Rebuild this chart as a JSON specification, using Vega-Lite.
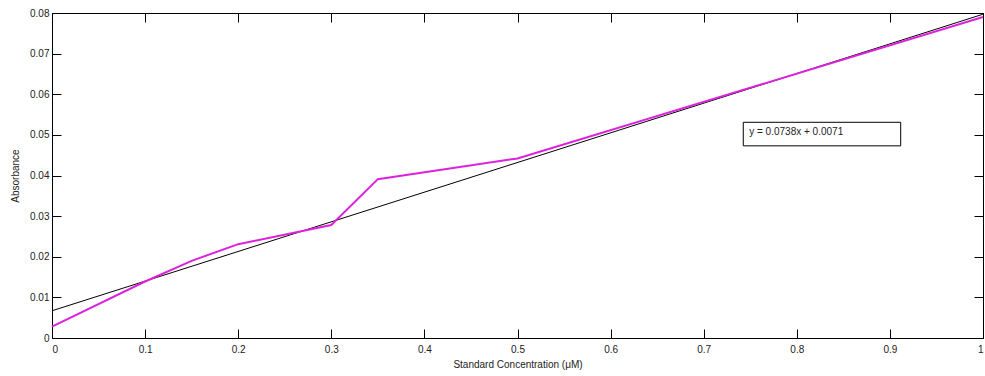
{
  "$schema": "https://vega.github.io/schema/vega-lite/v6.json",
  "autosize": "none",
  "width": 931,
  "height": 325,
  "padding": {"left": 52, "top": 13, "right": 2, "bottom": 38},
  "background": "white",
  "config": {
    "view": {"stroke": "black", "strokeWidth": 1},
    "font": "Liberation Sans",
    "axis": {
      "grid": false,
      "domainColor": "black",
      "tickColor": "black",
      "tickSize": -9,
      "labelFont": "Liberation Sans",
      "labelFontSize": 10,
      "labelColor": "#222",
      "titleFont": "Liberation Sans",
      "titleFontSize": 10,
      "titleFontWeight": "normal",
      "titleColor": "#222"
    }
  },
  "datasets": {
    "fit": [{"conc": 0, "abs": 0.0067}, {"conc": 1, "abs": 0.0797}],
    "meas": [
      {"conc": 0, "abs": 0.0028},
      {"conc": 0.1, "abs": 0.0139},
      {"conc": 0.15, "abs": 0.019},
      {"conc": 0.2, "abs": 0.0231},
      {"conc": 0.3, "abs": 0.0278},
      {"conc": 0.35, "abs": 0.0391},
      {"conc": 0.5, "abs": 0.0442},
      {"conc": 1, "abs": 0.079}
    ],
    "box": [{"x1": 0.7425, "x2": 0.9116, "y1": 0.0473, "y2": 0.0531, "tx": 0.7489, "ty": 0.0506, "label": "y = 0.0738x + 0.0071"}]
  },
  "layer": [
    {
      "data": {"name": "fit"},
      "mark": {"type": "line", "color": "black", "strokeWidth": 1, "clip": true},
      "encoding": {
        "x": {"field": "conc", "type": "quantitative", "scale": {"domain": [0, 1], "nice": false},
          "axis": {"orient": "bottom", "values": [0,0.1,0.2,0.3,0.4,0.5,0.6,0.7,0.8,0.9,1], "format": ".1~f", "title": "Standard Concentration (μM)", "labelPadding": 15, "titlePadding": 5}},
        "y": {"field": "abs", "type": "quantitative", "scale": {"domain": [0, 0.08], "nice": false},
          "axis": {"orient": "left", "values": [0,0.01,0.02,0.03,0.04,0.05,0.06,0.07,0.08], "format": ".2~f", "title": "Absorbance", "labelPadding": 12, "titlePadding": 9}}
      }
    },
    {
      "data": {"name": "meas"},
      "mark": {"type": "line", "color": "#dd22dd", "strokeWidth": 2},
      "encoding": {
        "x": {"field": "conc", "type": "quantitative", "scale": {"domain": [0, 1], "nice": false},
          "axis": {"orient": "top", "values": [0,0.1,0.2,0.3,0.4,0.5,0.6,0.7,0.8,0.9,1], "labels": false, "title": null}},
        "y": {"field": "abs", "type": "quantitative", "scale": {"domain": [0, 0.08], "nice": false},
          "axis": {"orient": "right", "values": [0,0.01,0.02,0.03,0.04,0.05,0.06,0.07,0.08], "labels": false, "title": null}}
      }
    },
    {
      "data": {"name": "box"},
      "mark": {"type": "rect", "fill": "white", "stroke": "black", "strokeWidth": 1},
      "encoding": {
        "x": {"field": "x1", "type": "quantitative", "axis": null},
        "x2": {"field": "x2"},
        "y": {"field": "y1", "type": "quantitative", "axis": null},
        "y2": {"field": "y2"}
      }
    },
    {
      "data": {"name": "box"},
      "mark": {"type": "text", "align": "left", "baseline": "middle", "fontSize": 10, "color": "#222", "font": "Liberation Sans"},
      "encoding": {
        "x": {"field": "tx", "type": "quantitative", "axis": null},
        "y": {"field": "ty", "type": "quantitative", "axis": null},
        "text": {"field": "label"}
      }
    }
  ],
  "resolve": {"axis": {"x": "independent", "y": "independent"}}
}
